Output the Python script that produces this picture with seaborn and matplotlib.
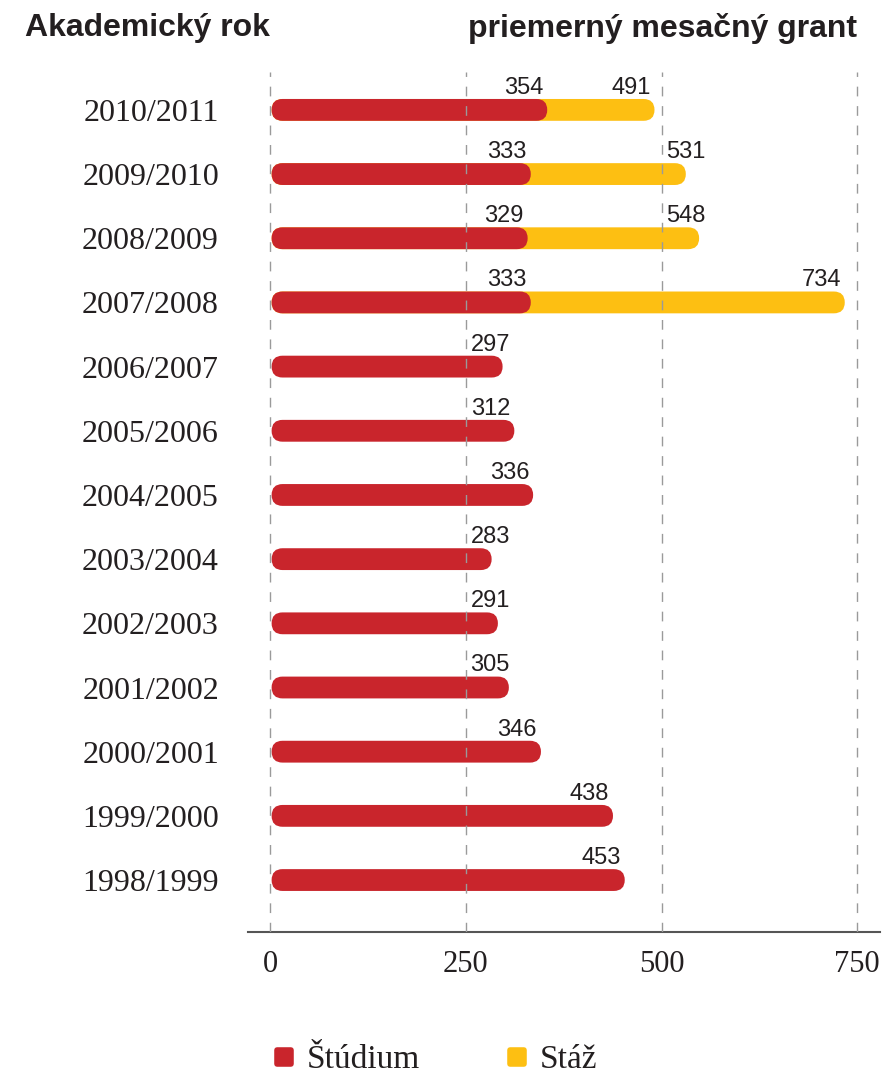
import seaborn as sns
import matplotlib
matplotlib.use('Agg')
import matplotlib.pyplot as plt
import pandas as pd
import numpy as np
from matplotlib.patches import FancyBboxPatch
from matplotlib.lines import Line2D
from matplotlib.markers import MarkerStyle

# Data
years = ['2010/2011', '2009/2010', '2008/2009', '2007/2008', '2006/2007',
         '2005/2006', '2004/2005', '2003/2004', '2002/2003', '2001/2002',
         '2000/2001', '1999/2000', '1998/1999']
studium = [354, 333, 329, 333, 297, 312, 336, 283, 291, 305, 346, 438, 453]
staz = [491, 531, 548, 734, np.nan, np.nan, np.nan, np.nan, np.nan, np.nan,
        np.nan, np.nan, np.nan]
xticks = [0, 250, 500, 750]

red = '#C9252C'
yellow = '#FDBF12'
dark = '#231F20'

df = pd.DataFrame({'rok': years, 'Štúdium': studium, 'Stáž': staz})

sns.set_style('white')
plt.rcParams['font.family'] = ['Liberation Serif', 'DejaVu Serif']

fig = plt.figure(figsize=(8.83, 10.75), dpi=100)
ax = fig.add_axes([0.281, 0.133, 0.7156, 0.80])

bar_h = 0.34
sns.barplot(data=df, y='rok', x='Stáž', order=years, color=yellow,
            width=bar_h, saturation=1, ax=ax, orient='h')
sns.barplot(data=df, y='rok', x='Štúdium', order=years, color=red,
            width=bar_h, saturation=1, ax=ax, orient='h')

ax.set_xlim(-28, 779)
ax.set_ylim(12.81, -0.59)

# convert plain bars into rounded bars
ax_w = 0.7156 * 883
ax_h = 0.80 * 1075
px_x = ax_w / (779 + 28)
px_y = ax_h / (12.81 + 0.59)
r_y = bar_h / 2
r_x = r_y * px_y / px_x
for p in list(ax.patches):
    x, y, w, h = p.get_x(), p.get_y(), p.get_width(), p.get_height()
    if not np.isfinite(w) or w == 0:
        p.remove()
        continue
    fc = p.get_facecolor()
    z = p.get_zorder()
    p.remove()
    rp = FancyBboxPatch((x + 2, y), w - 2, h,
                        boxstyle=f'round,pad=0,rounding_size={r_x}',
                        mutation_aspect=r_y / r_x,
                        facecolor=fc, edgecolor='none', zorder=z)
    ax.add_patch(rp)

# dashed gridlines on top of bars
for t in xticks:
    ax.axvline(t, color='#9A9A9A', lw=1, ls=(0, (7, 7)), zorder=5)

# value labels: right-aligned at bar end, unless that would cross a gridline
lab_font = dict(family=['Liberation Sans', 'DejaVu Sans'], fontsize=17,
                color=dark, va='baseline', zorder=6)
lab_w = 50


def put_label(v, row):
    ytxt = row - bar_h / 2 - 0.08
    right = v - 5
    left = right - lab_w
    for g in xticks:
        if left < g + 4 < right + 2:
            ax.text(g + 6, ytxt, str(int(v)), ha='left', **lab_font)
            return
    ax.text(right, ytxt, str(int(v)), ha='right', **lab_font)


for i, (s, t) in enumerate(zip(studium, staz)):
    put_label(s, i)
    if np.isfinite(t):
        put_label(t, i)

ax.set_xticks(xticks)
ax.set_xticklabels([str(t) for t in xticks])
ax.set_xlabel('')
ax.set_ylabel('')
ax.tick_params(axis='y', length=0, pad=21, labelsize=23, labelcolor=dark)
ax.tick_params(axis='x', length=0, pad=13, labelsize=22, labelcolor=dark)
for s in ['top', 'right', 'left']:
    ax.spines[s].set_visible(False)
ax.spines['bottom'].set_color('#555555')
ax.spines['bottom'].set_linewidth(1.5)

# headings
head_font = dict(family=['Liberation Sans', 'DejaVu Sans'], fontsize=23,
                 fontweight='bold', color=dark, va='center')
fig.text(25 / 883, 1 - 28 / 1075, 'Akademický rok', ha='left', **head_font)
fig.text(857 / 883, 1 - 28 / 1075, 'priemerný mesačný grant', ha='right', **head_font)

# legend
mk = MarkerStyle('s', joinstyle='round')
handles = [Line2D([], [], marker=mk, ls='none', markersize=10,
                  markerfacecolor=red, markeredgecolor=red, markeredgewidth=4),
           Line2D([], [], marker=mk, ls='none', markersize=10,
                  markerfacecolor=yellow, markeredgecolor=yellow, markeredgewidth=4)]
fig.legend(handles, ['Štúdium', 'Stáž'], loc='center',
           bbox_to_anchor=(434 / 883, 1 - 1060 / 1075), ncol=2, frameon=False,
           fontsize=24, handletextpad=0.3, columnspacing=2.5,
           handlelength=0.8, labelcolor=dark)

plt.savefig('out.png', dpi=100)
